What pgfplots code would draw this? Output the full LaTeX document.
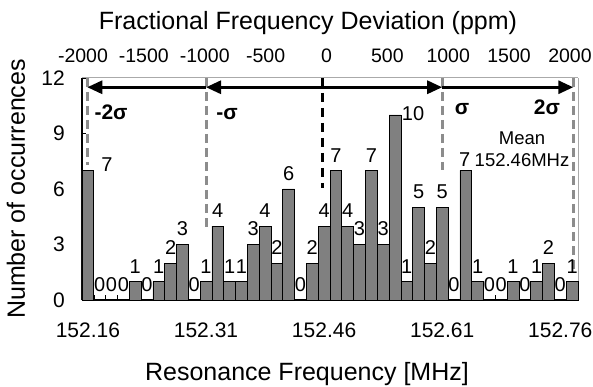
\documentclass[border=0pt]{standalone}
\usepackage{pgfplots}
\usepackage{pgfplotstable}
\pgfplotsset{compat=1.18}
\usetikzlibrary{arrows.meta}
\usepackage{fontspec}
\setmainfont{Liberation Sans}
\newcommand{\fs}[1]{\fontsize{#1}{#1}\selectfont}
\definecolor{barg}{RGB}{128,128,128}
\definecolor{dashg}{RGB}{140,140,140}
\definecolor{frameg}{RGB}{170,170,170}

\pgfplotstableread{
x y lab
0.5 7 {}
1.5 0 0
2.5 0 0
3.5 0 0
4.5 1 1
5.5 0 0
6.5 1 1
7.5 2 2
8.5 3 3
9.5 0 0
10.5 1 1
11.5 4 4
12.5 1 1
13.5 1 1
14.5 3 3
15.5 4 4
16.5 2 2
17.5 6 6
18.5 0 0
19.5 2 2
20.5 4 4
21.5 7 7
22.5 4 4
23.5 3 3
24.5 7 7
25.5 3 3
26.5 10 {}
27.5 1 1
28.5 5 5
29.5 2 2
30.5 5 5
31.5 0 0
32.5 7 {}
33.5 1 1
34.5 0 0
35.5 0 0
36.5 1 1
37.5 0 0
38.5 1 1
39.5 2 2
40.5 0 0
41.5 1 1
}\bars

\begin{document}
\begin{tikzpicture}
\path[use as bounding box] (-82bp,-87bp) rectangle (511bp,300bp);
% top (ppm) axis
\begin{axis}[
  at={(0,0)}, anchor=south west, scale only axis,
  width=496bp, height=222bp,
  xmin=-2008, xmax=2066, ymin=0, ymax=12,
  axis x line*=top, axis y line*=right,
  axis line style={line width=1bp, color=frameg},
  xtick={-2000,-1500,-1000,-500,0,500,1000,1500,2000},
  xticklabels={-2000,-1500,-1000,-500,0,500,1000,1500,2000},
  ytick=\empty, major tick length=0pt,
  xticklabel style={font=\fs{19.5bp}, inner sep=0pt, anchor=south, yshift=15bp},
  xlabel={Fractional Frequency Deviation (ppm)},
  xlabel style={font=\fs{25bp}, at={(axis description cs:0.4556,1)}, anchor=base, yshift=48bp, inner sep=0pt},
]
\end{axis}
% main histogram axis
\begin{axis}[
  at={(0,0)}, anchor=south west, scale only axis,
  width=496bp, height=222bp,
  xmin=0, xmax=42, ymin=0, ymax=12,
  axis x line*=bottom, axis y line*=left,
  axis line style={line width=1.2bp, black},
  xtick={0.5,10.5,20.5,30.5,40.5},
  xticklabels={152.16,152.31,152.46,152.61,152.76},
  minor xtick={1,2,...,41},
  major x tick style={draw=none},
  minor x tick style={black, line width=0.6bp},
  minor tick length=5bp,
  ytick={0,3,6,9,12}, yticklabels={0,3,6,9,12},
  y tick style={black, line width=0.8bp}, major tick length=4bp,
  xticklabel style={font=\fs{21bp}, inner sep=0pt, anchor=north, yshift=-23bp},
  yticklabel style={font=\fs{21bp}, inner sep=0pt, anchor=east, xshift=-17bp},
  xlabel={Resonance Frequency [MHz]},
  xlabel style={font=\fs{25bp}, at={(axis description cs:0.4536,0)}, anchor=base, yshift=-80bp, inner sep=0pt},
  ylabel={Number of occurrences},
  ylabel style={font=\fs{25bp}, at={(axis description cs:-0.133,0.5)}, anchor=center, inner sep=0pt},
  clip=false,
]
\addplot[ybar, bar width=1, fill=barg, draw=black, line width=0.7bp,
  nodes near coords, point meta=explicit symbolic,
  nodes near coords style={font=\fs{20bp}, inner sep=0pt, anchor=south, yshift=8bp, text=black}]
  table[x=x, y=y, meta=lab] {\bars};
% sigma lines
\addplot[draw=dashg, line width=3bp, dash pattern=on 9bp off 5bp] coordinates {(0.45,12) (0.45,7.3)};
\addplot[draw=dashg, line width=3bp, dash pattern=on 9bp off 5bp] coordinates {(10.5,12) (10.5,3.7)};
\addplot[draw=dashg, line width=3bp, dash pattern=on 9bp off 5bp] coordinates {(30.5,12) (30.5,7.0)};
\addplot[draw=dashg, line width=3bp, dash pattern=on 9bp off 5bp] coordinates {(41.6,12) (41.6,1.45)};
\addplot[draw=black, line width=3bp, dash pattern=on 9bp off 6bp] coordinates {(20.4,12) (20.4,6.05)};
% arrows
\addplot[black, line width=3bp, -{Triangle[length=15bp,width=13bp]}] coordinates {(10.5,11.5) (0.45,11.5)};
\addplot[black, line width=3bp, -{Triangle[length=15bp,width=13bp]}] coordinates {(20.4,11.5) (10.5,11.5)};
\addplot[black, line width=3bp, -{Triangle[length=15bp,width=13bp]}] coordinates {(20.4,11.5) (30.5,11.5)};
\addplot[black, line width=3bp, -{Triangle[length=15bp,width=13bp]}] coordinates {(30.5,11.5) (41.6,11.5)};
% moved data labels
\node[font=\fs{20bp}, inner sep=0pt] at (axis cs:2.12,7.3) {7};
\node[font=\fs{20bp}, inner sep=0pt] at (axis cs:28.03,10.1) {10};
\node[font=\fs{20bp}, inner sep=0pt] at (axis cs:32.4,7.6) {7};
% sigma labels
\node[font=\bfseries\fs{21bp}, inner sep=0pt, anchor=base] at (axis cs:2.46,9.73) {-2σ};
\node[font=\bfseries\fs{21bp}, inner sep=0pt, anchor=base] at (axis cs:12.28,9.73) {-σ};
\node[font=\bfseries\fs{21bp}, inner sep=0pt, anchor=base] at (axis cs:32.18,10.0) {σ};
\node[font=\bfseries\fs{21bp}, inner sep=0pt, anchor=base] at (axis cs:39.37,10.0) {2σ};
\node[font=\fs{18.5bp}, inner sep=0pt] at (axis cs:37.26,8.76) {Mean};
\node[font=\fs{18.5bp}, inner sep=0pt] at (axis cs:37.26,7.57) {152.46MHz};
\end{axis}
\end{tikzpicture}
\end{document}
